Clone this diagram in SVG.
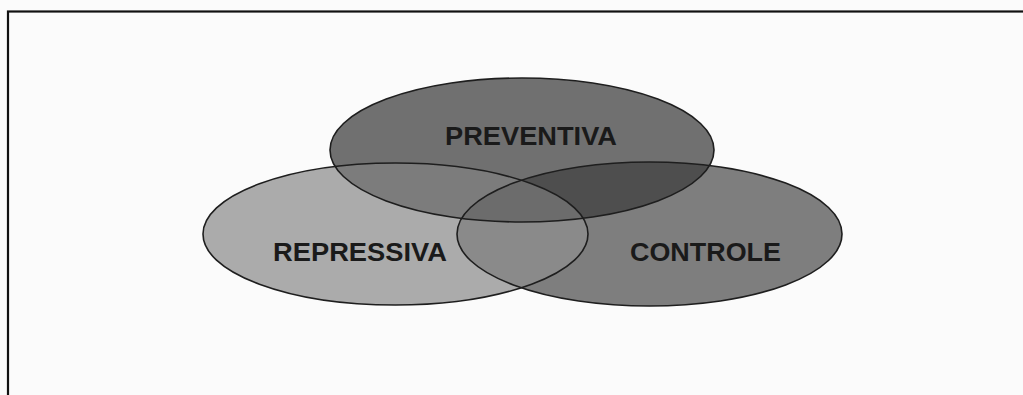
<svg xmlns="http://www.w3.org/2000/svg" width="1023" height="395" viewBox="0 0 1023 395">
  <style>
    .ring { stroke: #1e1e1e; stroke-width: 1.6; }
    .edge { fill: none; stroke: #1e1e1e; stroke-width: 1.6; }
    .label { font-family: "Liberation Sans", Arial, sans-serif; font-weight: bold; font-size: 25px; fill: #1a1a1a; text-anchor: middle; }
  </style>
  <defs>
    <clipPath id="clip-top"><ellipse cx="522" cy="150" rx="192" ry="72"/></clipPath>
    <clipPath id="clip-left"><ellipse cx="395.5" cy="234" rx="192.5" ry="71"/></clipPath>
    <clipPath id="clip-right"><ellipse cx="649.5" cy="234" rx="192.5" ry="72"/></clipPath>
  </defs>

  <!-- page -->
  <rect x="0" y="0" width="1023" height="395" fill="#fbfbfb"/>
  <rect x="8" y="11.5" width="1030" height="400" fill="none" stroke="#111" stroke-width="2.2"/>

  <!-- base fills -->
  <g id="repressiva">
    <ellipse cx="395.5" cy="234" rx="192.5" ry="71" fill="#ababab"/>
  </g>
  <g id="controle">
    <ellipse cx="649.5" cy="234" rx="192.5" ry="72" fill="#7e7e7e"/>
  </g>
  <g id="preventiva">
    <ellipse cx="522" cy="150" rx="192" ry="72" fill="#707070"/>
  </g>

  <!-- overlap shading -->
  <g id="overlaps">
    <g clip-path="url(#clip-left)">
      <ellipse cx="649.5" cy="234" rx="192.5" ry="72" fill="#8a8a8a"/>
      <ellipse cx="522" cy="150" rx="192" ry="72" fill="#7c7c7c"/>
    </g>
    <g clip-path="url(#clip-right)">
      <ellipse cx="522" cy="150" rx="192" ry="72" fill="#4e4e4e"/>
    </g>
    <g clip-path="url(#clip-left)">
      <g clip-path="url(#clip-right)">
        <ellipse cx="522" cy="150" rx="192" ry="72" fill="#6c6c6c"/>
      </g>
    </g>
  </g>

  <!-- outlines -->
  <g id="outlines">
    <ellipse class="edge" cx="395.5" cy="234" rx="192.5" ry="71"/>
    <ellipse class="edge" cx="649.5" cy="234" rx="192.5" ry="72"/>
    <ellipse class="edge" cx="522" cy="150" rx="192" ry="72"/>
  </g>

  <!-- labels -->
  <g id="labels">
    <text class="label" x="531" y="145" textLength="172" lengthAdjust="spacingAndGlyphs">PREVENTIVA</text>
    <text class="label" x="360" y="261" textLength="174" lengthAdjust="spacingAndGlyphs">REPRESSIVA</text>
    <text class="label" x="705.5" y="261" textLength="151" lengthAdjust="spacingAndGlyphs">CONTROLE</text>
  </g>
</svg>
